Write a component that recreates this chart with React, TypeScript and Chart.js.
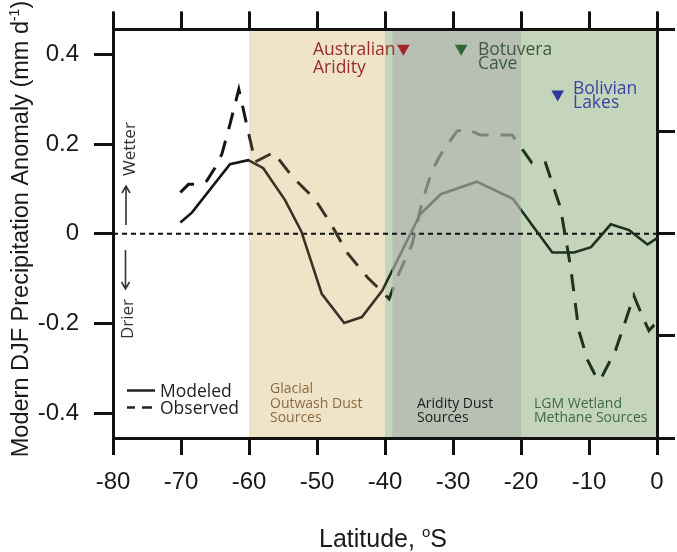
import React, { useEffect, useRef } from "react";
import { Chart, registerables } from "chart.js";

Chart.register(...registerables);

// ---------------- data ----------------
const modeledLat = [-70.1, -68.4, -62.8, -60.1, -57.9, -54.7, -52.3, -49.3, -46.0, -43.4, -40.4, -34.8, -31.8, -26.5, -21.2, -15.4, -12.2, -9.7, -6.8, -4.1, -1.4, 0];
const modeledVal = [0.025, 0.047, 0.155, 0.164, 0.146, 0.075, 0.005, -0.134, -0.199, -0.186, -0.127, 0.044, 0.088, 0.116, 0.078, -0.042, -0.042, -0.03, 0.021, 0.008, -0.024, -0.01];

const observedLat = [-70.1, -68.9, -67.6, -66.2, -65.0, -64.0, -62.8, -61.5, -59.1, -56.4, -53.5, -50.3, -47.8, -45.6, -42.6, -39.4, -38.0, -36.0, -34.5, -33.1, -31.8, -29.4, -27.8, -26.0, -21.3, -19.8, -18.4, -16.4, -14.2, -12.7, -11.5, -10.2, -8.7, -8.0, -6.1, -4.6, -3.4, -2.1, -1.2, 0];
const observedVal = [0.092, 0.11, 0.11, 0.118, 0.147, 0.177, 0.244, 0.322, 0.16, 0.181, 0.125, 0.077, 0.018, -0.042, -0.097, -0.145, -0.09, -0.023, 0.073, 0.14, 0.177, 0.229, 0.233, 0.22, 0.22, 0.188, 0.158, 0.158, 0.058, -0.075, -0.216, -0.282, -0.327, -0.316, -0.26, -0.193, -0.138, -0.186, -0.216, -0.197];

const siteLines = [["Australian", "Aridity"], ["Botuvera", "Cave"], ["Bolivian", "Lakes"]];
const siteLat = [-37.3, -28.8, -14.6];
const siteVal = [0.413, 0.413, 0.311];

const xTicks = [-80, -70, -60, -50, -40, -30, -20, -10, 0];
const yTicks = [-0.4, -0.2, 0, 0.2, 0.4];
const y2Ticks = [-2, -1, 0, 1, 2];

const regionLabels = [["Glacial", "Outwash Dust", "Sources"], ["Aridity Dust", "Sources"], ["LGM Wetland", "Methane Sources"]];

// ---------------- style ----------------
const W = 677;
const H = 552;
const TAN = "#f0e4c8";
const GREEN = "#c4d5bb";
const GREY = "#b8c0b4";
const ARIAL = '"Liberation Sans", Arial, sans-serif';
const SANS = '"Open Sans", "Noto Sans", sans-serif';
const Y_LIM = 0.4556;

// zone boundaries for line colouring (latitude) and colours
const zoneBounds = [-80, -60, -40, -38.9, -20, 0];
const modeledZoneColors = ["#151515", "#3a3226", "#1f321f", "#7b8179", "#1e301f"];
const observedZoneColors = ["#151515", "#3a3226", "#1f321f", "#7d837c", "#20331f"];

function zoneGradient(chart: any, colors: string[]) {
  const { chartArea, scales, ctx } = chart;
  if (!chartArea || !scales.x) return colors[0];
  const x = scales.x;
  const l = chartArea.left;
  const r = chartArea.right;
  const g = ctx.createLinearGradient(l, 0, r, 0);
  for (let i = 0; i < colors.length; i++) {
    const a = (x.getPixelForValue(zoneBounds[i]) - l) / (r - l);
    const b = (x.getPixelForValue(zoneBounds[i + 1]) - l) / (r - l);
    g.addColorStop(Math.max(0, Math.min(1, a)), colors[i]);
    g.addColorStop(Math.max(0, Math.min(1, b - 0.0001)), colors[i]);
  }
  return g;
}

function drawParts(ctx: CanvasRenderingContext2D, parts: { t: string; font: string; dy: number }[], x: number, y: number, align: "center" | "left") {
  let total = 0;
  for (const p of parts) {
    ctx.font = p.font;
    total += ctx.measureText(p.t).width;
  }
  let cx = align === "center" ? x - total / 2 : x;
  ctx.textAlign = "left";
  for (const p of parts) {
    ctx.font = p.font;
    ctx.fillText(p.t, cx, y + p.dy);
    cx += ctx.measureText(p.t).width;
  }
}

const decorPlugin = {
  id: "decor",
  beforeDraw(chart: any) {
    const { ctx, chartArea: a, scales } = chart;
    const x = scales.x;
    const y = scales.y;
    ctx.save();
    ctx.fillStyle = "#ffffff";
    ctx.fillRect(0, 0, W, H);
    const rect = (x0: number, x1: number, c: string) => {
      const p0 = x.getPixelForValue(x0);
      const p1 = x.getPixelForValue(x1);
      ctx.fillStyle = c;
      ctx.fillRect(p0, a.top, p1 - p0, a.bottom - a.top);
    };
    rect(-60, -40, TAN);
    rect(-40, 0, GREEN);
    rect(-38.9, -20, GREY);

    // zero line
    const y0 = y.getPixelForValue(0);
    ctx.strokeStyle = "#111";
    ctx.lineWidth = 2;
    ctx.setLineDash([5, 4]);
    ctx.beginPath();
    ctx.moveTo(a.left, y0);
    ctx.lineTo(a.right, y0);
    ctx.stroke();
    ctx.setLineDash([]);

    // region labels
    ctx.textBaseline = "alphabetic";
    ctx.textAlign = "left";
    ctx.font = `14px ${SANS}`;
    ctx.fillStyle = "#8b6a3f";
    regionLabels[0].forEach((t, i) => ctx.fillText(t, 270, 393 + i * 14.5));
    ctx.fillStyle = "#1c1c1c";
    regionLabels[1].forEach((t, i) => ctx.fillText(t, 417, 407.5 + i * 14.8));
    ctx.fillStyle = "#3e6b42";
    regionLabels[2].forEach((t, i) => ctx.fillText(t, 534, 407.5 + i * 14.8));
    ctx.restore();
  },
  afterDraw(chart: any) {
    const { ctx } = chart;
    ctx.save();
    ctx.fillStyle = "#1a1a1a";
    ctx.textBaseline = "alphabetic";

    // y title
    ctx.save();
    ctx.translate(28, 229);
    ctx.rotate(-Math.PI / 2);
    drawParts(
      ctx,
      [
        { t: "Modern DJF Precipitation Anomaly (mm d", font: `23.5px ${ARIAL}`, dy: 0 },
        { t: "-1", font: `14px ${ARIAL}`, dy: -9 },
        { t: ")", font: `23.5px ${ARIAL}`, dy: 0 },
      ],
      0,
      0,
      "center"
    );
    ctx.restore();

    // x title
    drawParts(
      ctx,
      [
        { t: "Latitude, ", font: `25px ${ARIAL}`, dy: 0 },
        { t: "o", font: `15px ${ARIAL}`, dy: -10 },
        { t: "S", font: `25px ${ARIAL}`, dy: 0 },
      ],
      383,
      547,
      "center"
    );

    // wetter / drier
    ctx.fillStyle = "#333";
    ctx.strokeStyle = "#333";
    ctx.font = `17px ${SANS}`;
    ctx.save();
    ctx.translate(135, 176);
    ctx.rotate(-Math.PI / 2);
    ctx.fillText("Wetter", 0, 0);
    ctx.restore();
    ctx.save();
    ctx.translate(133, 339);
    ctx.rotate(-Math.PI / 2);
    ctx.fillText("Drier", 0, 0);
    ctx.restore();
    ctx.lineWidth = 1.6;
    ctx.beginPath();
    ctx.moveTo(126, 225);
    ctx.lineTo(126, 187);
    ctx.moveTo(122, 193);
    ctx.lineTo(126, 186);
    ctx.lineTo(130, 193);
    ctx.moveTo(125.5, 250);
    ctx.lineTo(125.5, 288);
    ctx.moveTo(121.5, 282);
    ctx.lineTo(125.5, 289);
    ctx.lineTo(129.5, 282);
    ctx.stroke();

    // legend
    ctx.strokeStyle = "#222";
    ctx.lineWidth = 2.5;
    ctx.beginPath();
    ctx.moveTo(127, 390.5);
    ctx.lineTo(155, 390.5);
    ctx.moveTo(127, 407.5);
    ctx.lineTo(135, 407.5);
    ctx.moveTo(142, 407.5);
    ctx.lineTo(152, 407.5);
    ctx.stroke();
    ctx.fillStyle = "#222";
    ctx.font = `17.5px ${SANS}`;
    ctx.fillText("Modeled", 160, 397);
    ctx.fillText("Observed", 160, 413.5);

    // site annotations
    ctx.font = `17.5px ${SANS}`;
    ctx.fillStyle = "#9a2b2b";
    ctx.textAlign = "left";
    ctx.fillText(siteLines[0][0], 313, 55);
    ctx.fillText(siteLines[0][1], 313, 72.7);
    ctx.fillStyle = "#3d5a3f";
    ctx.fillText(siteLines[1][0], 478, 55);
    ctx.fillText(siteLines[1][1], 478, 69);
    ctx.fillStyle = "#3a44a0";
    ctx.fillText(siteLines[2][0], 573, 94);
    ctx.fillText(siteLines[2][1], 573, 107.5);
    ctx.restore();
  },
};

const fixedSize = (prop: "width" | "height", v: number) => (s: any) => {
  s[prop] = v;
};

export default function App() {
  const ref = useRef<HTMLCanvasElement | null>(null);
  useEffect(() => {
    if (!ref.current) return;
    const axisGrid = (len: number) => ({
      display: true,
      drawOnChartArea: false,
      drawTicks: true,
      tickLength: len,
      color: "#111",
      lineWidth: 3,
    });
    const border = { display: true, color: "#111", width: 3 };
    const chart = new Chart(ref.current, {
      type: "line",
      data: {
        datasets: [
          {
            label: "Modeled",
            data: modeledLat.map((v, i) => ({ x: v, y: modeledVal[i] })),
            borderColor: (c: any) => zoneGradient(c.chart, modeledZoneColors),
            borderWidth: 2.6,
            pointRadius: 0,
            tension: 0,
            fill: false,
            xAxisID: "x",
            yAxisID: "y",
          },
          {
            label: "Observed",
            data: observedLat.map((v, i) => ({ x: v, y: observedVal[i] })),
            borderColor: (c: any) => zoneGradient(c.chart, observedZoneColors),
            borderWidth: 3,
            borderDash: [17, 12],
            pointRadius: 0,
            tension: 0,
            fill: false,
            xAxisID: "x",
            yAxisID: "y",
          },
          ...siteLines.map((s, i) => ({
            type: "scatter" as const,
            label: s.join(" "),
            data: [{ x: siteLat[i], y: siteVal[i] }],
            pointStyle: "triangle",
            rotation: 180,
            pointRadius: 7.3,
            backgroundColor: ["#a0262b", "#2f6633", "#2e3aa0"][i],
            borderWidth: 0,
            showLine: false,
            xAxisID: "x",
            yAxisID: "y",
          })),
        ],
      } as any,
      options: {
        animation: false,
        responsive: false,
        events: [],
        layout: { padding: 0 },
        plugins: { legend: { display: false }, tooltip: { enabled: false }, title: { display: false } },
        scales: {
          x: {
            type: "linear",
            position: "bottom",
            min: -80,
            max: 0,
            afterBuildTicks: (s: any) => {
              s.ticks = xTicks.map((v) => ({ value: v }));
            },
            afterFit: fixedSize("height", 114),
            ticks: {
              callback: (v: any) => String(v),
              font: { family: ARIAL, size: 24 },
              color: "#1a1a1a",
              padding: 13,
              maxRotation: 0,
              autoSkip: false,
            },
            grid: axisGrid(17),
            border,
          },
          x2: {
            type: "linear",
            position: "top",
            min: -80,
            max: 0,
            afterBuildTicks: (s: any) => {
              s.ticks = xTicks.map((v) => ({ value: v }));
            },
            afterFit: fixedSize("height", 28),
            ticks: { display: false },
            grid: axisGrid(18),
            border,
          },
          y: {
            type: "linear",
            position: "left",
            min: -Y_LIM,
            max: Y_LIM,
            afterBuildTicks: (s: any) => {
              s.ticks = yTicks.map((v) => ({ value: v }));
            },
            afterFit: fixedSize("width", 113),
            ticks: {
              callback: (v: any) => (Math.abs(v) < 1e-9 ? "0" : Number(v).toFixed(1)),
              font: { family: ARIAL, size: 24 },
              color: "#1a1a1a",
              padding: 15,
            },
            grid: axisGrid(19),
            border,
          },
          y2: {
            type: "linear",
            position: "right",
            min: -2,
            max: 2,
            afterBuildTicks: (s: any) => {
              s.ticks = y2Ticks.map((v) => ({ value: v }));
            },
            afterFit: fixedSize("width", 20),
            ticks: { display: false },
            grid: axisGrid(18),
            border,
          },
        },
      } as any,
      plugins: [decorPlugin],
    });
    return () => chart.destroy();
  }, []);

  return (
    <div style={{ position: "absolute", left: 0, top: 0, width: W, height: H, background: "#fff" }}>
      <canvas ref={ref} width={W} height={H} style={{ display: "block", width: W, height: H }} />
    </div>
  );
}
